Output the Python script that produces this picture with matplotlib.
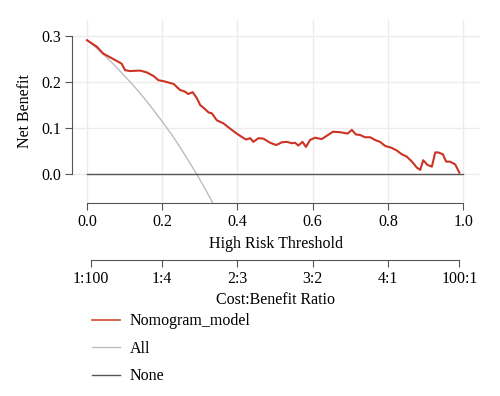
import matplotlib.pyplot as plt
from matplotlib.lines import Line2D

plt.rcParams['font.family'] = ['Liberation Serif', 'DejaVu Serif']

# Nomogram model net benefit
model_x = [0.0, 0.026, 0.043, 0.061, 0.079, 0.092, 0.101, 0.114, 0.141, 0.159,
           0.177, 0.190, 0.203, 0.230, 0.247, 0.261, 0.269, 0.281, 0.292, 0.301,
           0.314, 0.323, 0.332, 0.345, 0.363, 0.380, 0.398, 0.411, 0.423, 0.434,
           0.442, 0.456, 0.469, 0.487, 0.503, 0.518, 0.531, 0.545, 0.553, 0.562,
           0.573, 0.582, 0.593, 0.606, 0.624, 0.654, 0.673, 0.693, 0.704, 0.715,
           0.726, 0.739, 0.753, 0.766, 0.779, 0.793, 0.810, 0.824, 0.837, 0.850,
           0.864, 0.877, 0.886, 0.894, 0.905, 0.917, 0.926, 0.934, 0.946, 0.955,
           0.965, 0.979, 0.990]
model_y = [0.291, 0.277, 0.262, 0.254, 0.246, 0.240, 0.226, 0.224, 0.225, 0.221,
           0.213, 0.204, 0.202, 0.196, 0.183, 0.179, 0.174, 0.178, 0.165, 0.150,
           0.141, 0.134, 0.132, 0.117, 0.110, 0.099, 0.088, 0.081, 0.075, 0.078,
           0.070, 0.078, 0.077, 0.068, 0.063, 0.069, 0.070, 0.067, 0.068, 0.062,
           0.070, 0.059, 0.074, 0.079, 0.076, 0.092, 0.091, 0.088, 0.096, 0.086,
           0.085, 0.080, 0.080, 0.074, 0.070, 0.061, 0.057, 0.051, 0.043, 0.038,
           0.027, 0.014, 0.009, 0.030, 0.020, 0.016, 0.047, 0.047, 0.043, 0.027,
           0.027, 0.021, 0.003]

# Treat-all curve
all_x = [0.0, 0.025, 0.05, 0.075, 0.10, 0.125, 0.15, 0.175, 0.20, 0.225,
         0.25, 0.275, 0.30, 0.32, 0.34]
all_y = [0.292, 0.274, 0.255, 0.235, 0.213, 0.191, 0.167, 0.141, 0.114, 0.086,
         0.055, 0.022, -0.012, -0.041, -0.072]

# Treat-none
none_x = [0.0, 1.0]
none_y = [0.0, 0.0]

x_ticks = [0.0, 0.2, 0.4, 0.6, 0.8, 1.0]
y_ticks = [0.0, 0.1, 0.2, 0.3]
cb_ticks = [1 / 101, 0.2, 0.4, 0.6, 0.8, 100 / 101]
cb_labels = ['1:100', '1:4', '2:3', '3:2', '4:1', '100:1']

FS = 11.5
W, H = 500, 396
fig = plt.figure(figsize=(W / 100, H / 100), dpi=100)
ax = fig.add_axes([72 / W, 1 - 203 / H, (480 - 72) / W, (203 - 20) / H])

ax.set_xlim(-0.04, 1.045)
ax.set_ylim(-0.063, 0.335)
ax.grid(True, color='#ececec', lw=1)
ax.set_axisbelow(True)

ax.plot(model_x, model_y, color='#cc3322', lw=1.5, label='Nomogram_model', zorder=3)
ax.plot(all_x, all_y, color='#bdbdbd', lw=1.0, label='All', zorder=2)
ax.plot(none_x, none_y, color='#555555', lw=1.0, label='None', zorder=2)

for s in ['top', 'right']:
    ax.spines[s].set_visible(False)
ax.spines['left'].set_bounds(0, 0.3)
ax.spines['bottom'].set_bounds(0, 1)
for s in ['left', 'bottom']:
    ax.spines[s].set_color('#555555')
ax.set_xticks(x_ticks)
ax.set_yticks(y_ticks)
ax.set_xticklabels([f'{v:.1f}' for v in x_ticks])
ax.set_yticklabels([f'{v:.1f}' for v in y_ticks])
ax.tick_params(direction='out', length=5, color='#555555', labelsize=FS, pad=3)
ax.set_xlabel('High Risk Threshold', fontsize=FS, labelpad=4)
ax.set_ylabel('Net Benefit', fontsize=FS, labelpad=6)

# Cost:Benefit axis
ax2 = fig.add_axes([72 / W, 1 - 260 / H, (480 - 72) / W, 0.0001])
ax2.set_xlim(-0.04, 1.045)
ax2.patch.set_visible(False)
for s in ['top', 'right', 'left']:
    ax2.spines[s].set_visible(False)
ax2.spines['bottom'].set_bounds(cb_ticks[0], cb_ticks[-1])
ax2.spines['bottom'].set_color('#555555')
ax2.set_yticks([])
ax2.set_xticks(cb_ticks)
ax2.set_xticklabels(cb_labels)
ax2.tick_params(direction='out', length=5, color='#555555', labelsize=FS, pad=3)
ax2.set_xlabel('Cost:Benefit Ratio', fontsize=FS, labelpad=3.5)

handles = [Line2D([], [], color='#d65a3c', lw=1.3),
           Line2D([], [], color='#bdbdbd', lw=1.0),
           Line2D([], [], color='#555555', lw=1.0)]
fig.legend(handles, ['Nomogram_model', 'All', 'None'], loc='upper left',
           bbox_to_anchor=(78 / W, 1 - 299 / H), frameon=False, fontsize=FS,
           handlelength=1.7, labelspacing=0.72, handletextpad=0.65)

fig.savefig('out.png', dpi=100)
